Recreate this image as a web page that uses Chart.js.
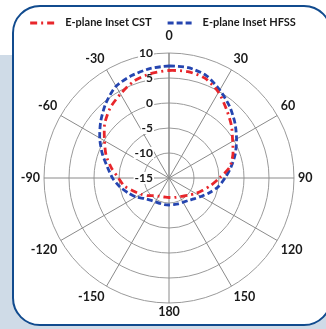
<!DOCTYPE html>
<html>
<head>
<meta charset="utf-8">
<script src="https://cdn.jsdelivr.net/npm/chart.js@4/dist/chart.umd.min.js"></script>
<style>
  html, body { margin: 0; padding: 0; background: #ffffff; }
  body { width: 326px; height: 329px; position: relative; overflow: hidden; }
  #band { position: absolute; left: 0; top: 55px; width: 326px; height: 274px; background: #cfdbe7; }
  #frame { position: absolute; left: 12px; top: 5px; width: 316px; height: 317px;
           border: 2.5px solid #114b8e; border-radius: 28px; background: #ffffff; }
  #wrap { position: absolute; left: 0; top: 0; width: 326px; height: 329px; }
</style>
</head>
<body>
<div id="band"></div>
<div id="frame"></div>
<div id="wrap"><canvas id="c" width="326" height="329"></canvas></div>
<script>
// Angles (degrees), clockwise from the top, every 10 degrees
const angles = ['0','10','20','30','40','50','60','70','80','90','100','110','120','130','140','150','160','170',
                '180','-170','-160','-150','-140','-130','-120','-110','-100','-90','-80','-70','-60','-50','-40','-30','-20','-10'];

// Gain (dB) per angle
const cstGain = [6.5, 6.6, 6.2, 4.8, 2.9, 1.3, -0.3, -1.4, -2.7, -4.9, -6.5, -7.8, -8.8, -9.7, -10.3, -10.7, -10.9, -11.0,
                 -11.1, -11.1, -11.0, -10.8, -10.4, -9.5, -8.5, -7.4, -5.9, -4.9, -3.3, -1.6, -0.1, 1.8, 3.3, 4.4, 5.6, 6.2];
const hfssGain = [7.4, 7.4, 6.8, 5.3, 3.8, 2.2, 0.6, -0.9, -2.4, -3.8, -5.0, -6.4, -7.6, -8.5, -9.1, -9.4, -9.5, -9.6,
                  -9.6, -9.6, -9.6, -9.5, -9.2, -8.6, -7.4, -6.3, -5.0, -3.7, -2.5, -0.8, 1.0, 2.8, 4.6, 6.2, 6.8, 7.2];

// Radial tick values
const radialTicks = [-15, -10, -5, 0, 5, 10];

const seriesNames = ['E-plane Inset CST', 'E-plane Inset HFSS'];

const FONT = 'Lato, "Open Sans", sans-serif';
const TEXT = '#1a1a1a';

// Radial tick labels, right-aligned just left of the 0-degree axis
const tickLabelPlugin = {
  id: 'tickLabels',
  beforeDatasetsDraw(chart) {
    const s = chart.scales.r;
    const ctx = chart.ctx;
    ctx.save();
    ctx.font = 'bold 12px ' + FONT;
    ctx.textAlign = 'right';
    ctx.textBaseline = 'middle';
    radialTicks.forEach(v => {
      const y = s.yCenter - s.getDistanceFromCenterForValue(v);
      const x = s.xCenter - 16;
      const label = String(v);
      const w = ctx.measureText(label).width;
      ctx.fillStyle = '#ffffff';
      ctx.fillRect(x - w - 1, y - 6, w + 2, 12);
      ctx.fillStyle = TEXT;
      ctx.fillText(label, x, y);
    });
    ctx.restore();
  }
};

// Series key across the top: line sample in each series' own stroke, then its name
const keyPlugin = {
  id: 'seriesKey',
  afterDraw(chart) {
    const ctx = chart.ctx;
    const sets = chart.data.datasets;
    const sample = 26, gap = 9, between = 16, y = 22;
    ctx.save();
    ctx.font = 'bold 11px ' + FONT;
    ctx.textBaseline = 'middle';
    ctx.textAlign = 'left';
    const widths = sets.map(d => ctx.measureText(d.label).width);
    const total = widths.reduce((a, w) => a + sample + gap + w, 0) + between * (sets.length - 1);
    let x = 163 - total / 2;
    sets.forEach((d, i) => {
      ctx.strokeStyle = d.borderColor;
      ctx.lineWidth = 3;
      ctx.setLineDash(d.borderDash);
      ctx.beginPath();
      ctx.moveTo(x, y + 1);
      ctx.lineTo(x + sample, y + 1);
      ctx.stroke();
      ctx.setLineDash([]);
      x += sample + gap;
      ctx.fillStyle = TEXT;
      ctx.fillText(d.label, x, y);
      x += widths[i] + between;
    });
    ctx.restore();
  }
};

new Chart(document.getElementById('c'), {
  type: 'radar',
  data: {
    labels: angles,
    datasets: [
      {
        label: seriesNames[0],
        data: cstGain,
        borderColor: '#e8262b',
        borderWidth: 2.8,
        borderDash: [7, 4, 2, 4],
        fill: false,
        pointRadius: 0,
        tension: 0.25
      },
      {
        label: seriesNames[1],
        data: hfssGain,
        borderColor: '#2545b0',
        borderWidth: 2.8,
        borderDash: [6, 3],
        fill: false,
        pointRadius: 0,
        tension: 0.25
      }
    ]
  },
  options: {
    responsive: false,
    animation: false,
    layout: { padding: { left: 17, right: 9, top: 24, bottom: 5 } },
    plugins: {
      tooltip: { enabled: false },
      legend: { display: false }
    },
    scales: {
      r: {
        min: -15,
        max: 10,
        ticks: { stepSize: 5, display: false },
        grid: { circular: true, color: '#9a9a9a', lineWidth: 1 },
        angleLines: {
          color: (c) => (c.index % 3 === 0 ? '#8a8a8a' : 'rgba(0,0,0,0)'),
          lineWidth: (c) => (c.index % 3 === 0 ? (c.index === 0 ? 1.5 : 1) : 0)
        },
        pointLabels: {
          display: true,
          color: TEXT,
          font: { family: FONT, size: 12.5, weight: 'bold' },
          padding: (c) => (c.index === 0 ? 10 : (c.index === 18 ? 1 : 4)),
          callback: (label, i) => (i % 3 === 0 ? label : '')
        }
      }
    }
  },
  plugins: [tickLabelPlugin, keyPlugin]
});
</script>
</body>
</html>
